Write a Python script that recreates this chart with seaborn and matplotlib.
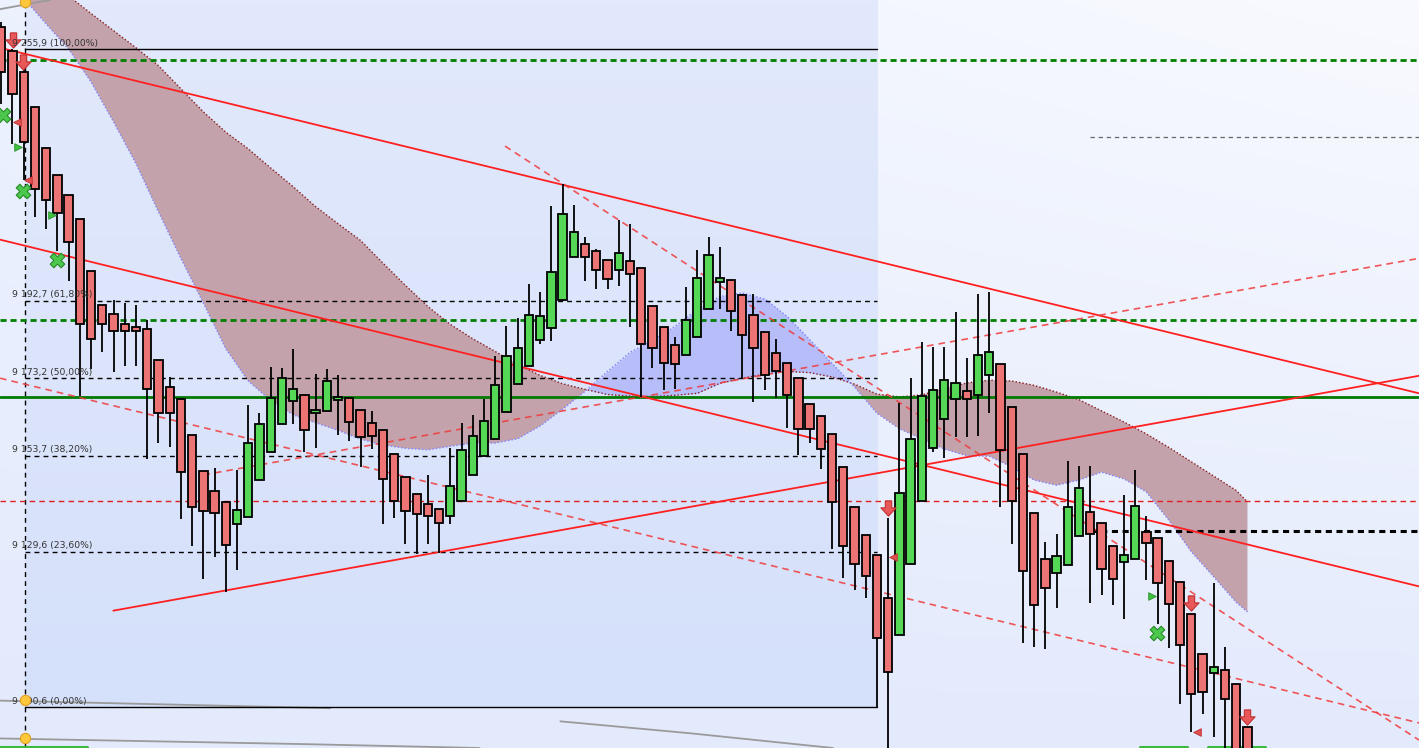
import numpy as np
import pandas as pd
import matplotlib
matplotlib.use("Agg")
import matplotlib.pyplot as plt
import seaborn as sns
from matplotlib.path import Path

sns.set_theme(style="white")
plt.rcParams['font.family'] = ['DejaVu Sans']

# --- candles (open, high, low, close), one per bar -------------------------
opens = [9261.4, 9255.4, 9250.0, 9241.3, 9231.0, 9224.3, 9219.3, 9213.3, 9200.0, 9191.6,
         9189.2, 9186.9, 9186.0, 9185.6, 9177.8, 9171.1, 9167.9, 9158.9, 9149.8, 9144.9,
         9142.1, 9136.6, 9138.3, 9147.5, 9154.6, 9161.6, 9167.4, 9168.9, 9164.4, 9164.9,
         9167.6, 9168.1, 9165.1, 9161.9, 9160.1, 9154.1, 9148.3, 9144.0, 9141.5, 9140.3,
         9138.5, 9142.3, 9148.8, 9153.6, 9157.8, 9164.6, 9171.7, 9176.2, 9182.7, 9185.7,
         9192.8, 9203.6, 9206.8, 9205.1, 9202.8, 9200.3, 9202.6, 9200.8, 9191.3, 9186.0,
         9181.5, 9178.9, 9183.5, 9190.7, 9197.4, 9197.8, 9194.0, 9189.0, 9184.9, 9179.4,
         9177.1, 9173.2, 9166.6, 9163.6, 9159.3, 9150.8, 9140.8, 9133.7, 9128.7, 9118.1,
         9108.8, 9126.5, 9142.3, 9155.6, 9162.9, 9167.9, 9169.9, 9168.9, 9173.9, 9176.7,
         9165.9, 9154.1, 9139.3, 9127.7, 9124.2, 9126.2, 9133.5, 9139.5, 9136.7, 9131.0,
         9126.9, 9127.9, 9134.5, 9133.0, 9127.4, 9121.9, 9113.9, 9103.8, 9099.1, 9099.8,
         9096.3, 9085.5]
highs = [9262.7, 9255.9, 9253.6, 9241.3, 9231.0, 9224.3, 9219.3, 9213.3, 9200.0, 9191.6,
         9192.9, 9192.2, 9191.7, 9187.9, 9177.8, 9173.6, 9167.9, 9158.9, 9149.8, 9150.7,
         9142.1, 9150.1, 9166.5, 9164.4, 9175.9, 9175.7, 9180.5, 9168.9, 9174.2, 9175.4,
         9173.9, 9168.1, 9165.1, 9164.9, 9160.1, 9154.1, 9148.3, 9144.0, 9148.8, 9140.3,
         9155.7, 9161.9, 9163.9, 9167.9, 9178.7, 9186.2, 9188.2, 9196.8, 9194.8, 9216.4,
         9221.9, 9216.6, 9208.6, 9205.6, 9202.8, 9212.9, 9211.9, 9200.8, 9191.3, 9186.0,
         9183.5, 9196.0, 9205.3, 9208.6, 9206.1, 9197.8, 9194.4, 9194.4, 9184.9, 9183.0,
         9177.1, 9173.2, 9166.6, 9163.6, 9159.3, 9150.8, 9140.8, 9133.7, 9128.7, 9138.1,
         9166.9, 9173.2, 9182.2, 9181.0, 9181.0, 9189.7, 9178.2, 9194.3, 9194.8, 9176.7,
         9165.9, 9154.1, 9139.3, 9132.0, 9134.0, 9152.5, 9151.1, 9151.1, 9136.7, 9131.0,
         9143.8, 9150.1, 9138.5, 9133.0, 9127.4, 9121.9, 9113.9, 9103.8, 9121.7, 9105.6,
         9096.3, 9085.5]
lows = [9242.1, 9232.0, 9223.0, 9213.6, 9210.6, 9205.1, 9197.5, 9168.7, 9175.6, 9179.9,
        9174.7, 9176.2, 9176.2, 9152.9, 9157.0, 9156.0, 9137.8, 9131.0, 9122.8, 9128.3,
        9119.6, 9125.0, 9138.3, 9147.5, 9154.6, 9161.6, 9161.8, 9154.6, 9155.7, 9164.9,
        9159.0, 9157.5, 9150.8, 9155.5, 9136.5, 9138.0, 9131.5, 9129.0, 9131.5, 9129.2,
        9136.5, 9142.3, 9148.8, 9153.6, 9157.8, 9164.6, 9171.7, 9176.2, 9181.9, 9182.5,
        9192.5, 9203.6, 9197.5, 9195.5, 9195.5, 9196.3, 9186.0, 9168.4, 9175.7, 9170.2,
        9170.4, 9178.9, 9183.5, 9190.7, 9190.5, 9185.1, 9173.2, 9167.3, 9170.3, 9168.3,
        9160.8, 9153.9, 9157.0, 9150.4, 9130.4, 9122.9, 9120.1, 9118.0, 9090.6, 9076.0,
        9108.8, 9126.5, 9142.3, 9154.6, 9153.1, 9158.3, 9158.3, 9158.6, 9164.4, 9140.8,
        9131.5, 9106.8, 9105.6, 9105.1, 9115.4, 9126.2, 9133.5, 9116.6, 9118.7, 9116.1,
        9112.6, 9127.9, 9122.4, 9111.5, 9105.5, 9091.4, 9084.4, 9088.8, 9083.0, 9077.3,
        9076.0, 9074.8]
closes = [9250.1, 9244.5, 9232.5, 9220.7, 9218.0, 9214.7, 9207.4, 9186.7, 9183.1, 9186.7,
          9185.0, 9185.0, 9185.0, 9170.5, 9164.5, 9164.5, 9149.6, 9140.8, 9139.8, 9139.3,
          9131.3, 9140.2, 9156.8, 9161.6, 9168.1, 9173.3, 9170.4, 9160.1, 9165.1, 9172.4,
          9168.5, 9162.1, 9158.3, 9158.6, 9147.8, 9142.3, 9139.8, 9139.0, 9138.7, 9136.7,
          9146.0, 9155.1, 9158.6, 9162.4, 9171.4, 9178.7, 9180.9, 9189.0, 9188.7, 9199.8,
          9214.4, 9209.8, 9203.6, 9200.5, 9198.0, 9204.6, 9199.3, 9181.7, 9180.7, 9176.9,
          9176.7, 9187.7, 9198.3, 9204.1, 9198.3, 9190.0, 9184.0, 9180.7, 9174.1, 9174.9,
          9169.1, 9160.4, 9160.4, 9155.4, 9142.0, 9131.0, 9126.6, 9123.4, 9107.9, 9099.5,
          9144.3, 9157.8, 9168.8, 9170.2, 9172.7, 9171.9, 9167.9, 9178.9, 9179.7, 9155.1,
          9142.3, 9124.7, 9116.1, 9120.4, 9128.5, 9140.8, 9145.5, 9134.0, 9125.2, 9122.7,
          9128.9, 9141.0, 9131.7, 9121.7, 9116.4, 9106.1, 9093.8, 9094.3, 9100.6, 9092.5,
          9077.3, 9076.0]

# --- cloud (two spans) sampled every second bar ------------------------------
cloud_x = list(range(2, 111, 2)) + [111]
span_a = [9279.8, 9274.5, 9269.2, 9264.8, 9260.5, 9256.2, 9251.7, 9245.9, 9240.1, 9235.0,
          9230.8, 9226.0, 9221.3, 9216.3, 9212.0, 9207.8, 9202.1, 9196.5, 9191.2, 9186.7,
          9183.1, 9179.9, 9176.6, 9173.9, 9171.8, 9170.4, 9169.1, 9168.7, 9168.6, 9168.9,
          9169.4, 9171.9, 9173.2, 9174.2, 9174.9, 9174.6, 9173.5, 9171.7, 9169.2, 9168.5,
          9169.0, 9170.6, 9172.0, 9172.7, 9172.5, 9171.4, 9169.7, 9167.8, 9165.0, 9162.2,
          9159.2, 9155.8, 9152.2, 9148.6, 9145.0, 9142.1]
span_b = [9268.6, 9262.2, 9255.9, 9247.6, 9237.6, 9227.1, 9215.0, 9203.3, 9192.1, 9180.6,
          9172.5, 9167.6, 9164.0, 9162.0, 9160.1, 9157.9, 9156.4, 9155.6, 9155.2, 9156.1,
          9156.9, 9156.9, 9158.0, 9161.2, 9165.4, 9169.9, 9174.9, 9179.7, 9182.6, 9186.2,
          9190.5, 9193.7, 9194.6, 9193.1, 9188.7, 9182.9, 9176.9, 9171.0, 9164.4, 9160.5,
          9157.9, 9155.4, 9153.7, 9153.6, 9150.9, 9147.6, 9146.3, 9147.6, 9149.6, 9147.9,
          9144.6, 9137.5, 9129.6, 9123.3, 9116.9, 9114.5]

# --- fibonacci retracement ---------------------------------------------------
fib_levels = [9255.9, 9192.7, 9173.2, 9153.7, 9129.6, 9090.6]
fib_labels = ["9 255,9 (100,00%)", "9 192,7 (61,80%)", "9 173,2 (50,00%)",
              "9 153,7 (38,20%)", "9 129,6 (23,60%)", "9 090,6 (0,00%)"]
fib_start, fib_end = 2.11, 78.0

# --- horizontal levels -------------------------------------------------------
green_dashed = [9253.1, 9187.8]
green_solid = 9168.5
red_dashed_level = 9142.3
gray_dash_level, gray_dash_start = 9233.8, 96.97
black_dash_level, black_dash_start = 9134.9, 96.97

# --- trend lines: (x0, y0, x1, y1) -------------------------------------------
solid_trends = [(-0.11, 9256.2, 126.28, 9169.4),
                (-0.11, 9208.0, 126.28, 9120.9),
                (9.98, 9114.8, 126.28, 9173.8)]
dashed_trends = [(44.87, 9231.5, 126.28, 9082.3),
                 (-0.11, 9173.2, 126.28, 9086.6),
                 (18.0, 9148.9, 126.28, 9203.3)]
gray_arcs = [([-0.11, 4.34], [9265.9, 9268.2]),
             ([-0.11, 29.3], [9092.2, 9090.3]),
             ([-0.11, 26.6, 42.6], [9082.7, 9081.3, 9080.3]),
             ([49.8, 61.35, 74.08], [9087.0, 9084.0, 9080.3])]
green_bottom = [(-0.11, 7.64), (101.4, 105.6), (107.5, 112.6)]
green_bottom_level = 9080.6

# --- signals -----------------------------------------------------------------
sell_x = [1.02, 1.96, 78.98, 106.0, 111.0]
sell_y = [9258.2, 9252.6, 9140.6, 9116.7, 9088.1]
left_tri_x = [1.43, 2.41, 79.45, 106.48]
left_tri_y = [9237.6, 9223.1, 9128.4, 9084.4]
right_tri_x = [1.52, 4.49, 102.47]
right_tri_y = [9231.3, 9214.3, 9118.5]
cross_x = [0.18, 1.96, 4.99, 102.97]
cross_y = [9239.4, 9220.3, 9202.9, 9109.1]
handle_x = [2.11, 2.11, 2.11]
handle_y = [9267.7, 9092.3, 9082.7]

x_min, x_max = -0.113, 126.28
y_min, y_max = 9080.3, 9268.2

fig = plt.figure(figsize=(14.19, 7.48), dpi=100)
ax = fig.add_axes([0, 0, 1, 1])
ax.set_xlim(x_min, x_max)
ax.set_ylim(y_min, y_max)
ax.axis("off")

# background gradients
ny, nx = 200, 200
t = np.linspace(0, 1, ny)[:, None]
s = np.linspace(0, 1, nx)[None, :]
top = np.array([236, 242, 254])[None, None, :] * (1 - s[..., None]) + np.array([249, 250, 255])[None, None, :] * s[..., None]
bottom = np.array([227, 234, 252])[None, None, :]
bg = top * (1 - t[..., None]) + bottom * t[..., None]
ax.imshow(bg / 255, extent=(x_min, x_max, y_min, y_max), aspect="auto", zorder=0)

box_top = np.array([226, 233, 252])
box_bot = np.array([213, 224, 250])
box = (box_top[None, :] * (1 - t) + box_bot[None, :] * t)[:, None, :] / 255
ax.imshow(box, extent=(fib_start, fib_end, fib_levels[-1], y_max), aspect="auto", zorder=0.5)

# cloud
cx = np.array(cloud_x, dtype=float)
a = np.array(span_a)
b = np.array(span_b)
ax.fill_between(cx, a, b, where=a >= b, interpolate=True, color="#c3a2ab", lw=0, zorder=1)
ax.fill_between(cx, a, b, where=a < b, interpolate=True, color="#b6bdf8", lw=0, zorder=1)
cloud_df = pd.DataFrame({"x": np.r_[cx, cx], "y": np.r_[a, b],
                         "span": ["a"] * len(cx) + ["b"] * len(cx)})
sns.lineplot(data=cloud_df, x="x", y="y", hue="span", palette={"a": "#8b1c1c", "b": "#8080ff"},
             linestyle=(0, (1, 1.5)), lw=1, legend=False, ax=ax, zorder=1.5, sort=False)

# gray arcs
for gx, gy in gray_arcs:
    ax.plot(gx, gy, color="#9a9a9a", lw=1.3, zorder=1.6)

# fibonacci lines and labels
for i, (lvl, lab) in enumerate(zip(fib_levels, fib_labels)):
    ls = "-" if i in (0, len(fib_levels) - 1) else (0, (3.5, 3))
    ax.plot([fib_start, fib_end], [lvl, lvl], color="black", lw=1, linestyle=ls, zorder=2)
    ax.text(0.96, lvl + 0.35, lab, fontsize=6.7, color="#333333", va="bottom", ha="left", zorder=6)
ax.axvline(fib_start, color="black", lw=1, linestyle=(0, (3.5, 3)), zorder=2)

# horizontal levels
for lvl in green_dashed:
    ax.axhline(lvl, color="#008000", lw=2, linestyle=(0, (2.2, 1.4)), zorder=2.2)
ax.axhline(green_solid, color="#007a00", lw=2, zorder=2.2)
ax.axhline(red_dashed_level, color="#e02020", lw=1, linestyle=(0, (4, 3)), zorder=2.1)
ax.plot([gray_dash_start, x_max], [gray_dash_level] * 2, color="#666666", lw=0.9,
        linestyle=(0, (3.5, 3)), zorder=2)
ax.plot([black_dash_start, x_max], [black_dash_level] * 2, color="black", lw=2.2,
        linestyle=(0, (2, 1.5)), zorder=2)
for gx0, gx1 in green_bottom:
    ax.plot([gx0, gx1], [green_bottom_level] * 2, color="#3cb83c", lw=2.2, zorder=2)

# trend lines
for x0, y0, x1, y1 in solid_trends:
    ax.plot([x0, x1], [y0, y1], color="#ff2020", lw=1.3, zorder=2.5)
for x0, y0, x1, y1 in dashed_trends:
    ax.plot([x0, x1], [y0, y1], color="#f03a3a", lw=1.2, linestyle=(0, (4, 3)), alpha=0.85, zorder=2.5)

# candles
o = np.array(opens)
h = np.array(highs)
l = np.array(lows)
c = np.array(closes)
xi = np.arange(len(o))
up = c >= o
ax.vlines(xi, l, h, color="black", lw=1.3, zorder=3)
body_lo = np.minimum(o, c)
body_h = np.maximum(np.abs(c - o), 0.5)
ax.bar(xi[up], body_h[up], bottom=body_lo[up], width=0.74, color="#55d855",
       edgecolor="black", linewidth=1.3, zorder=4)
ax.bar(xi[~up], body_h[~up], bottom=body_lo[~up], width=0.74, color="#ec7474",
       edgecolor="black", linewidth=1.3, zorder=4)

# signals
arrow = Path([(-0.25, 0.6), (0.25, 0.6), (0.25, 0.05), (0.6, 0.05), (0, -0.6),
              (-0.6, 0.05), (-0.25, 0.05), (-0.25, 0.6)])
ax.scatter(sell_x, sell_y, marker=arrow, s=120, color="#e85858", edgecolor="#c03030",
           linewidth=0.8, zorder=5)
ax.scatter(left_tri_x, left_tri_y, marker="<", s=30, color="#e05050", edgecolor="#c03030",
           linewidth=0.6, zorder=5)
ax.scatter(right_tri_x, right_tri_y, marker=">", s=30, color="#40c040", edgecolor="#2a902a",
           linewidth=0.6, zorder=5)
ax.scatter(cross_x, cross_y, marker="X", s=110, color="#4cc84c", edgecolor="#2a8a2a",
           linewidth=0.8, zorder=5)
ax.scatter(handle_x, handle_y, marker="o", s=55, color="#ffc83c", edgecolor="#e0a020",
           linewidth=0.8, zorder=7)

fig.savefig("out.png", dpi=100)
